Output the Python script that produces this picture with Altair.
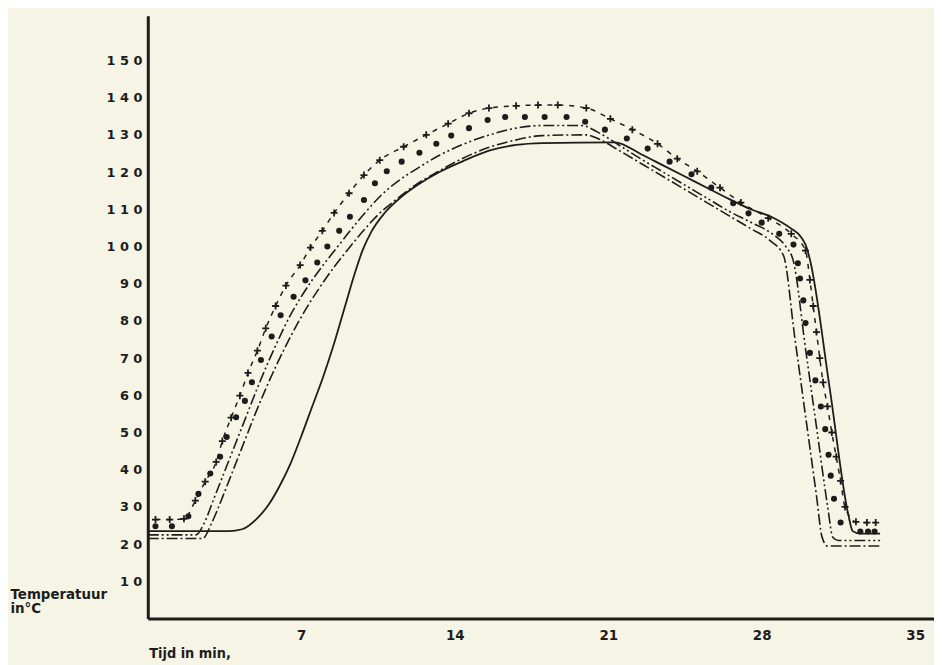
import altair as alt
import pandas as pd

# ---- data: (time in min, temperature in °C) ----
P_pts = [(0.35,26.6),(1.0,26.6),(1.65,26.8),(2.17,31.7),(2.62,36.8),(3.12,42.1),(3.4,47.7),(3.8,54.0),
         (4.2,59.9),(4.57,66.0),(5.0,72.0),(5.38,78.0),(5.83,84.0),(6.3,89.5),(6.95,95.0),(7.42,99.7),
         (7.96,104.2),(8.5,109.0),(9.18,114.3),(9.86,119.2),(10.58,123.2),(11.67,126.8),(12.7,130.0),
         (13.7,133.0),(14.65,135.8),(15.56,137.2),(16.8,137.8),(17.8,138.0),(18.7,138.0),(20.0,137.2),
         (21.1,134.3),(22.1,131.4),(23.25,127.6),(24.15,123.6),(25.06,120.2),(26.1,115.8),(27.05,111.8),
         (28.3,107.6),(29.35,103.4),(30.0,98.9),(30.2,91.0),(30.35,84.0),(30.5,77.0),(30.65,70.0),
         (30.8,63.5),(31.0,57.0),(31.2,50.0),(31.4,43.5),(31.6,37.0),(31.8,30.0),(32.3,26.0),
         (32.8,25.8),(33.2,25.8)]

D_pts = [(0.35,24.8),(1.1,24.8),(1.85,27.5),(2.31,33.5),(2.85,39.0),(3.3,43.5),(3.6,48.8),(4.03,54.1),
         (4.43,58.5),(4.75,63.5),(5.16,69.5),(5.65,75.8),(6.06,81.5),(6.65,86.5),(7.19,90.9),(7.73,95.7),
         (8.19,100.0),(8.73,104.2),(9.22,108.0),(9.86,112.5),(10.36,117.0),(10.9,120.2),(11.58,122.8),
         (12.39,125.2),(13.16,127.6),(13.84,129.8),(14.65,131.8),(15.5,134.0),(16.3,134.8),(17.2,134.8),
         (18.1,134.8),(19.1,134.8),(19.95,133.5),(20.85,131.4),(21.85,129.0),(22.8,126.3),(23.8,122.8),
         (24.8,119.4),(25.7,115.8),(26.7,111.6),(27.4,108.9),(28.0,106.4),(28.8,103.4),(29.45,100.5),
         (29.65,95.5),(29.75,91.4),(29.9,85.5),(30.0,79.4),(30.2,71.4),(30.45,64.0),(30.7,57.0),
         (30.9,50.9),(31.05,44.0),(31.15,38.4),(31.3,32.2),(31.6,25.8),(32.5,23.4),(32.85,23.4),(33.15,23.4)]

L1_pts = [(0.0,22.5),(2.2,22.5),(2.6,26.0),(3.0,32.0),(3.5,39.5),(4.0,47.0),(4.5,54.5),(5.0,62.0),
          (5.5,69.0),(6.0,75.5),(6.5,81.5),(7.0,86.5),(7.5,91.0),(8.0,95.0),(8.6,99.5),(9.2,104.0),
          (9.9,109.0),(10.6,113.5),(11.4,117.5),(12.3,121.0),(13.3,124.5),(14.4,127.5),(15.6,130.0),
          (16.8,131.8),(18.0,132.5),(19.8,132.5),(20.5,130.8),(21.5,127.2),(22.5,123.5),(23.5,120.0),
          (24.5,116.5),(25.5,113.0),(26.5,109.5),(27.5,106.5),(28.5,103.3),(29.1,100.0),(29.44,96.2),
          (30.0,72.5),(30.5,51.5),(31.0,30.5),(31.25,21.8),(31.5,21.0),(33.4,21.0)]

L2_pts = [(0.0,21.5),(2.5,21.5),(2.9,25.5),(3.4,32.5),(3.9,40.0),(4.4,47.5),(4.9,55.0),(5.4,62.0),
          (5.9,68.5),(6.4,74.5),(6.9,80.0),(7.4,85.0),(7.9,89.5),(8.5,94.5),(9.1,99.0),(9.8,104.0),
          (10.5,108.5),(11.3,112.5),(12.2,116.5),(13.2,120.0),(14.3,123.5),(15.5,126.5),(16.7,128.5),
          (18.0,129.8),(20.0,130.0),(20.6,128.8),(21.5,125.8),(22.5,122.3),(23.5,118.8),(24.5,115.3),
          (25.5,111.8),(26.5,108.3),(27.5,104.8),(28.4,101.5),(29.0,97.5),(29.5,76.0),(30.0,54.5),
          (30.5,33.0),(30.75,22.0),(31.0,19.5),(33.4,19.5)]

S_pts = [(0.0,23.5),(3.7,23.5),(4.3,24.0),(5.0,27.0),(5.5,30.5),(6.0,35.5),(6.5,41.5),(7.0,49.0),
         (7.5,57.0),(8.0,65.0),(8.5,74.0),(9.0,84.0),(9.4,92.0),(9.8,99.0),(10.2,104.0),(10.8,109.0),
         (11.5,113.0),(12.3,116.5),(13.3,120.0),(14.4,123.0),(15.6,125.8),(16.8,127.3),(18.0,127.8),
         (21.3,128.0),(22.5,124.8),(23.5,121.8),(24.5,118.8),(25.5,115.8),(26.5,112.8),(27.5,110.0),
         (28.5,107.8),(29.3,105.0),(29.8,102.5),(30.0,100.5),(30.2,96.5),(31.1,62.0),(31.95,28.0),
         (32.15,23.5),(32.5,22.8),(33.4,22.8)]

x_ticks = [7, 14, 21, 28, 35]
y_ticks = [10, 20, 30, 40, 50, 60, 70, 80, 90, 100, 110, 120, 130, 140, 150]

INK = "#1c1c1c"
PAPER = "#f6f4e4"
NARROW = '"DejaVu Sans Condensed", "Liberation Sans Narrow", "DejaVu Sans", sans-serif'


def frame(pts):
    return pd.DataFrame(pts, columns=["t", "v"])


x_enc = alt.X(
    "t:Q",
    scale=alt.Scale(domain=[0, 35.86], nice=False, zero=False),
    axis=alt.Axis(
        values=x_ticks, grid=False, ticks=False, domainColor=INK, domainWidth=3,
        labelFont=NARROW, labelFontWeight="bold", labelFontSize=15, labelColor=INK,
        labelPadding=9, labelFlush=False,
        title="Tijd in min,",
        titleFont=NARROW, titleFontWeight="bold", titleFontSize=14.5, titleColor=INK,
        titleX=1, titleY=35, titleAlign="left", titleBaseline="middle", titleAngle=0,
    ),
)

y_enc = alt.Y(
    "v:Q",
    scale=alt.Scale(domain=[0, 162], nice=False, zero=False),
    axis=alt.Axis(
        values=y_ticks, grid=False, ticks=False, domainColor=INK, domainWidth=3,
        labelFont="DejaVu Sans", labelFontWeight="bold", labelFontSize=13, labelColor=INK,
        labelPadding=6, labelExpr="join(split(datum.label, ''), ' ')",
        title=["Temperatuur", "in°C"],
        titleFont="DejaVu Sans", titleFontWeight="bold", titleFontSize=13.5, titleColor=INK,
        titleX=-139, titleY=577, titleAlign="left", titleBaseline="top", titleAngle=0,
        titleLineHeight=14,
    ),
)

solid = alt.Chart(frame(S_pts)).mark_line(
    color=INK, strokeWidth=1.8, interpolate="monotone"
).encode(x=x_enc, y=y_enc)

dashdot = alt.Chart(frame(L2_pts)).mark_line(
    color=INK, strokeWidth=1.6, strokeDash=[11, 3, 2, 3], interpolate="monotone"
).encode(x=x_enc, y=y_enc)

dashdotdot = alt.Chart(frame(L1_pts)).mark_line(
    color=INK, strokeWidth=1.6, strokeDash=[11, 3, 2, 3, 2, 3], interpolate="monotone"
).encode(x=x_enc, y=y_enc)

dots = alt.Chart(frame(D_pts)).mark_point(
    shape="circle", filled=True, color=INK, size=38, opacity=1
).encode(x=x_enc, y=y_enc)

plus_line = alt.Chart(frame(P_pts)).mark_line(
    color=INK, strokeWidth=1.5, strokeDash=[5, 6], interpolate="monotone"
).encode(x=x_enc, y=y_enc)

plus_marks = alt.Chart(frame(P_pts)).mark_point(
    shape="M-1,0H1M0,-1V1", filled=False, color=INK, size=50, strokeWidth=1.8, opacity=1
).encode(x=x_enc, y=y_enc)

chart = alt.layer(solid, dashdot, dashdotdot, dots, plus_line, plus_marks).properties(
    width=793,
    height=608,
    autosize=alt.AutoSizeParams(type="none"),
    padding={"left": 141, "top": 5, "right": 0, "bottom": 44},
    background=PAPER,
).configure_view(strokeWidth=0)

chart.save("out.html", embed_options={"renderer": "svg", "actions": False})
